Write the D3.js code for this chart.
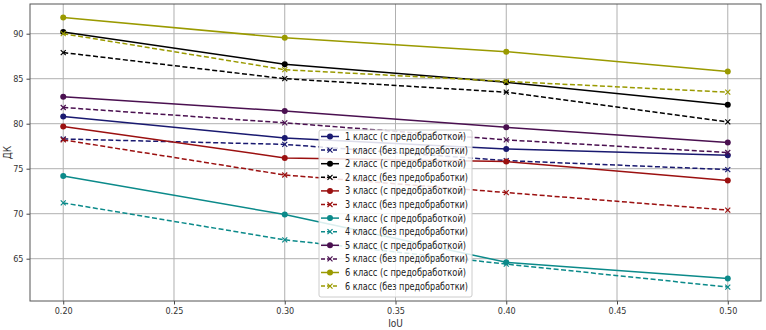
<!DOCTYPE html>
<html><head><meta charset="utf-8">
<script src="https://cdn.jsdelivr.net/npm/d3@7"></script>
<style>
html,body{margin:0;padding:0;background:#fff;}
svg{display:block;}
text{font-family:"DejaVu Sans Condensed","DejaVu Sans",sans-serif;}
</style></head>
<body>
<svg id="chart" width="766" height="330"></svg>
<script>
const iou = [0.20, 0.30, 0.40, 0.50];
const class1_pre = [80.8, 78.4, 77.2, 76.5];
const class1_raw = [78.3, 77.7, 75.9, 74.9];
const class2_pre = [90.2, 86.6, 84.6, 82.1];
const class2_raw = [87.9, 85.0, 83.5, 80.2];
const class3_pre = [79.7, 76.2, 75.8, 73.7];
const class3_raw = [78.2, 74.3, 72.35, 70.4];
const class4_pre = [74.2, 69.9, 64.6, 62.8];
const class4_raw = [71.2, 67.1, 64.4, 61.85];
const class5_pre = [83.0, 81.4, 79.6, 77.9];
const class5_raw = [81.8, 80.1, 78.2, 76.8];
const class6_pre = [91.8, 89.55, 88.0, 85.8];
const class6_raw = [90.0, 86.0, 84.7, 83.5];
const xTicks = [0.20, 0.25, 0.30, 0.35, 0.40, 0.45, 0.50];
const yTicks = [65, 70, 75, 80, 85, 90];
const classColors = ["#191970", "#000000", "#9b1010", "#0b8a8a", "#4a1050", "#9a9a00"];
const labelPre = n => n + " класс (с предобработкой)";
const labelRaw = n => n + " класс (без предобработки)";

const series = [];
[[class1_pre, class1_raw],[class2_pre, class2_raw],[class3_pre, class3_raw],
 [class4_pre, class4_raw],[class5_pre, class5_raw],[class6_pre, class6_raw]].forEach((p, i) => {
  series.push({name: labelPre(i+1), values: p[0], color: classColors[i], dashed: false});
  series.push({name: labelRaw(i+1), values: p[1], color: classColors[i], dashed: true});
});

const W = 766, H = 330;
const m = {left: 30, top: 4, right: 5, bottom: 29};
const svg = d3.select("#chart");
const x = d3.scaleLinear().domain([0.185, 0.515]).range([m.left, W - m.right]);
const y = d3.scaleLinear().domain([60.3, 93.3]).range([H - m.bottom, m.top]);

// grid
const g = svg.append("g");
g.selectAll("line.gx").data(xTicks).join("line")
  .attr("x1", d => x(d)).attr("x2", d => x(d)).attr("y1", m.top).attr("y2", H - m.bottom)
  .attr("stroke", "#b0b0b0").attr("stroke-width", 1);
g.selectAll("line.gy").data(yTicks).join("line")
  .attr("y1", d => y(d)).attr("y2", d => y(d)).attr("x1", m.left).attr("x2", W - m.right)
  .attr("stroke", "#b0b0b0").attr("stroke-width", 1);

// axes
const xAxis = d3.axisBottom(x).tickValues(xTicks).tickFormat(d3.format(".2f")).tickSize(3.5).tickPadding(3);
const yAxis = d3.axisLeft(y).tickValues(yTicks).tickFormat(d3.format("d")).tickSize(3.5).tickPadding(3);
const gx = svg.append("g").attr("transform", `translate(0,${H - m.bottom})`).call(xAxis);
const gy = svg.append("g").attr("transform", `translate(${m.left},0)`).call(yAxis);
[gx, gy].forEach(a => {
  a.select(".domain").remove();
  a.selectAll(".tick line").attr("stroke", "#444");
  a.selectAll(".tick text").attr("fill", "#333").style("font-size", "9px");
});

// frame
svg.append("rect").attr("x", m.left).attr("y", m.top)
  .attr("width", W - m.left - m.right).attr("height", H - m.top - m.bottom)
  .attr("fill", "none").attr("stroke", "#555").attr("stroke-width", 1);

// axis labels
svg.append("text").attr("x", (m.left + W - m.right) / 2).attr("y", 327)
  .attr("text-anchor", "middle").style("font-size", "10px").attr("fill", "#333").text("IoU");
svg.append("text").attr("transform", `translate(11,${(m.top + H - m.bottom) / 2}) rotate(-90)`)
  .attr("text-anchor", "middle").style("font-size", "10px").attr("fill", "#333").text("ДК");

// lines
const line = d3.line().x((d, i) => x(iou[i])).y(d => y(d));
const plot = svg.append("g");
series.forEach(s => {
  const sg = plot.append("g");
  sg.append("path").datum(s.values).attr("d", line)
    .attr("fill", "none").attr("stroke", s.color).attr("stroke-width", 1.5)
    .attr("stroke-dasharray", s.dashed ? "5,2.5" : null);
  if (s.dashed) {
    sg.selectAll("path.mk").data(s.values).join("path")
      .attr("d", "M-2.5,-2.5L2.5,2.5M-2.5,2.5L2.5,-2.5")
      .attr("transform", (d, i) => `translate(${x(iou[i])},${y(d)})`)
      .attr("stroke", s.color).attr("stroke-width", 1.2).attr("fill", "none");
  } else {
    sg.selectAll("circle").data(s.values).join("circle")
      .attr("cx", (d, i) => x(iou[i])).attr("cy", d => y(d)).attr("r", 3)
      .attr("fill", s.color);
  }
});

// legend
const lg = svg.append("g");
lg.append("rect").attr("x", 319).attr("y", 130).attr("width", 153).attr("height", 167)
  .attr("rx", 2).attr("fill", "#fff").attr("fill-opacity", 0.85)
  .attr("stroke", "#cccccc").attr("stroke-width", 1);
series.forEach((s, i) => {
  const yy = 136.5 + i * 13.6;
  lg.append("line").attr("x1", 321).attr("x2", 339).attr("y1", yy).attr("y2", yy)
    .attr("stroke", s.color).attr("stroke-width", 1.5)
    .attr("stroke-dasharray", s.dashed ? "4,2" : null);
  if (s.dashed) {
    lg.append("path").attr("d", "M-2.5,-2.5L2.5,2.5M-2.5,2.5L2.5,-2.5")
      .attr("transform", `translate(330,${yy})`).attr("stroke", s.color).attr("stroke-width", 1.2);
  } else {
    lg.append("circle").attr("cx", 330).attr("cy", yy).attr("r", 3).attr("fill", s.color);
  }
  lg.append("text").attr("x", 345).attr("y", yy + 3.5).style("font-size", "10px").attr("fill", "#222")
    .attr("textLength", s.dashed ? 123 : 121).attr("lengthAdjust", "spacingAndGlyphs")
    .text(s.name);
});
</script>
</body></html>
